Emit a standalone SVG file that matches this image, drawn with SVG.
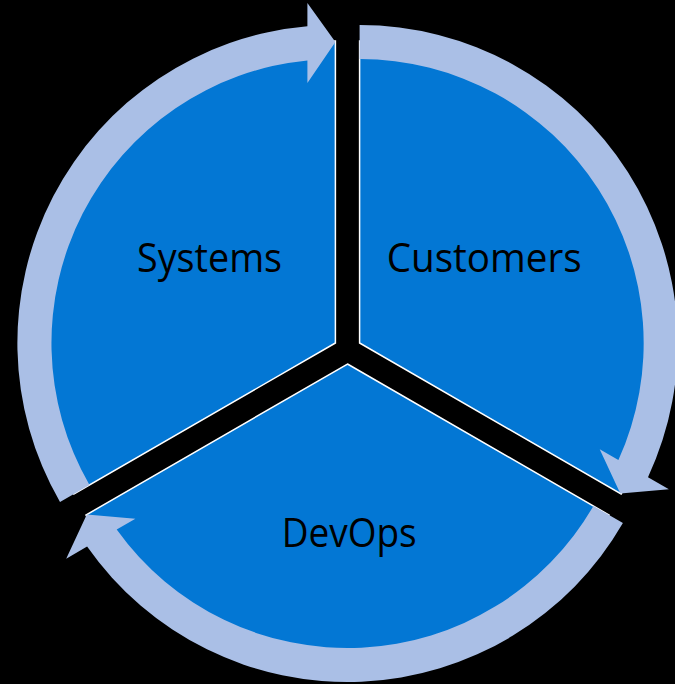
<svg xmlns="http://www.w3.org/2000/svg" width="675" height="684" viewBox="0 0 675 684">
  <style>
    .seg { fill: #0377D4; stroke: #FFFFFF; stroke-width: 1.5; stroke-linejoin: miter; }
    .arc { fill: #AABFE6; stroke: none; }
    .lbl { font-family: "Open Sans", "Noto Sans", "Liberation Sans", sans-serif; font-size: 40px; fill: #000000; text-anchor: middle; }
  </style>
  <rect x="0" y="0" width="675" height="684" fill="#000000"/>

  <!-- Pie segments (each pushed out from the hub by 14px) -->
  <g id="node-systems">
    <path class="seg" d="M 335.4 343 L 73.9 494 A 302 302 0 0 1 335.4 41 Z"/>
    <text class="lbl" x="209.5" y="272" textLength="145" lengthAdjust="spacingAndGlyphs">Systems</text>
  </g>
  <g id="node-customers">
    <path class="seg" d="M 359.6 343 L 359.6 41 A 302 302 0 0 1 621.1 494 Z"/>
    <text class="lbl" x="484.2" y="272" textLength="195" lengthAdjust="spacingAndGlyphs">Customers</text>
  </g>
  <g id="node-devops">
    <path class="seg" d="M 347.5 364 L 609 515 A 302 302 0 0 1 86 515 Z"/>
    <text class="lbl" x="349.2" y="547" textLength="135" lengthAdjust="spacingAndGlyphs">DevOps</text>
  </g>

  <!-- Clockwise block-arc arrows around each segment -->
  <g id="connectors">
    <path class="arc" d="M 60.0 502 A 318 318 0 0 1 307.4 26.2 L 307.4 3 L 335.4 42 L 307.4 83 L 307.4 60.4 A 284 284 0 0 0 89.5 485 Z"/>
    <path class="arc" d="M 359.6 25 A 318 318 0 0 1 648.0 477.2 L 668.9 489.3 L 620.3 493.5 L 599.7 449.3 L 618.4 460.1 A 284 284 0 0 0 359.6 59 Z"/>
    <path class="arc" d="M 622.9 523 A 318 318 0 0 1 87.1 546.6 L 66.2 558.75 L 86.8 514.5 L 135.4 518.75 L 116.7 529.55 A 284 284 0 0 0 593.4 506 Z"/>
  </g>
</svg>
